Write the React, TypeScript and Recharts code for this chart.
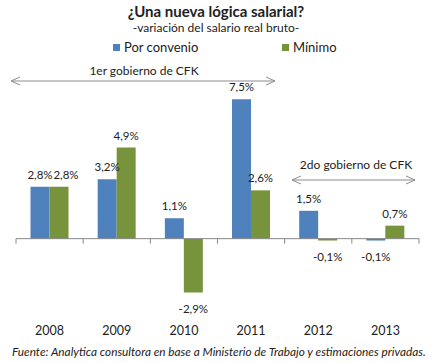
import { Bar, BarChart, LabelList, Legend, ReferenceLine, XAxis, YAxis } from "recharts";

const years = ["2008", "2009", "2010", "2011", "2012", "2013"];
const porConvenio = [2.8, 3.2, 1.1, 7.5, 1.5, -0.1];
const minimo = [2.8, 4.9, -2.9, 2.6, -0.1, 0.7];

const data = years.map((year, i) => ({ year, porConvenio: porConvenio[i], minimo: minimo[i] }));

const FONT = "Lato, 'Open Sans', sans-serif";
const BLUE = "#4F81BD";
const GREEN = "#77933C";
const GREY = "#868686";
const W = 433;
const H = 363;

const fmt = (v: number) => v.toFixed(1).replace(".", ",") + "%";

function ValueLabel(props: any) {
  const { x, y, width, height, value, index, other } = props;
  const top = Math.min(y, y + height);
  const bottom = Math.max(y, y + height);
  const neg = value < 0;
  // excel nudges a label sideways when it would sit on top of its twin
  const dx = other && other[index] === value ? 7 : 0;
  return (
    <text
      x={x + width / 2 + dx}
      y={neg ? bottom + 20 : top - 8}
      textAnchor="middle"
      fontSize={11.5}
      fontFamily={FONT}
      fill="#222"
    >
      {fmt(value)}
    </text>
  );
}

function YearTick(props: any) {
  const { x, y, payload } = props;
  return (
    <text x={x} y={y + 14} textAnchor="middle" fontSize={12.5} fontFamily={FONT} fill="#222">
      {payload.value}
    </text>
  );
}

// zero line plus the category tick marks hanging from it
function ZeroAxis(props: any) {
  const { x1, y1, x2 } = props;
  const step = (x2 - x1) / years.length;
  return (
    <g>
      <line x1={x1} y1={y1} x2={x2} y2={y1} stroke={GREY} strokeWidth={1} />
      {Array.from({ length: years.length + 1 }, (_, i) => (
        <line key={i} x1={x1 + i * step} y1={y1} x2={x1 + i * step} y2={y1 + 5} stroke={GREY} strokeWidth={1} />
      ))}
    </g>
  );
}

const legendSpots: Record<string, number> = { "Por convenio": 113, "Mínimo": 282 };

function LegendContent(props: any) {
  return (
    <div style={{ position: "relative", height: 16, fontFamily: FONT, fontSize: 13, color: "#222" }}>
      {(props.payload || []).map((p: any) => (
        <div
          key={p.value}
          style={{ position: "absolute", left: legendSpots[p.value] ?? 0, top: 0, display: "flex", alignItems: "center" }}
        >
          <span style={{ width: 7, height: 7, background: p.color, marginRight: 4, display: "inline-block" }} />
          <span>{p.value}</span>
        </div>
      ))}
    </div>
  );
}

function Arrow({ x1, x2, y }: { x1: number; x2: number; y: number }) {
  return (
    <g stroke="#8c8c8c" strokeWidth={1} fill="none">
      <line x1={x1} y1={y} x2={x2} y2={y} />
      <polyline points={`${x1 + 9},${y - 4} ${x1},${y} ${x1 + 9},${y + 4}`} />
      <polyline points={`${x2 - 9},${y - 4} ${x2},${y} ${x2 - 9},${y + 4}`} />
    </g>
  );
}

export default function App() {
  return (
    <div style={{ position: "absolute", left: 0, top: 0, width: W, height: H, background: "#fff" }}>
      <BarChart
        width={W}
        height={H}
        data={data}
        margin={{ top: 90, right: 14, bottom: 20, left: 16 }}
        barCategoryGap="21.6%"
        barGap={0}
      >
        <XAxis dataKey="year" axisLine={false} tickLine={false} height={30} interval={0} tick={<YearTick />} />
        <YAxis hide domain={[-4, 8]} allowDataOverflow />
        <Legend
          layout="horizontal"
          verticalAlign="middle"
          align="center"
          content={<LegendContent />}
          wrapperStyle={{ top: 39, left: 0, width: W }}
        />
        <Bar dataKey="porConvenio" name="Por convenio" fill={BLUE} isAnimationActive={false}>
          <LabelList dataKey="porConvenio" content={<ValueLabel />} />
        </Bar>
        <Bar dataKey="minimo" name="Mínimo" fill={GREEN} isAnimationActive={false}>
          <LabelList dataKey="minimo" content={<ValueLabel other={porConvenio} />} />
        </Bar>
        <ReferenceLine y={0} shape={<ZeroAxis />} />
      </BarChart>
      <svg width={W} height={H} style={{ position: "absolute", left: 0, top: 0, pointerEvents: "none" }}>
        <text x={216} y={17} textAnchor="middle" fontFamily={FONT} fontWeight="bold" fontSize={15} fill="#222">
          ¿Una nueva lógica salarial?
        </text>
        <text x={216} y={32} textAnchor="middle" fontFamily={FONT} fontSize={12} fill="#222">
          -variación del salario real bruto-
        </text>
        <text x={144} y={75} textAnchor="middle" fontFamily={FONT} fontSize={12} fill="#222">
          1er gobierno de CFK
        </text>
        <Arrow x1={11} x2={275} y={81} />
        <text x={356} y={169} textAnchor="middle" fontFamily={FONT} fontSize={12} fill="#222">
          2do gobierno de CFK
        </text>
        <Arrow x1={292} x2={415} y={180} />
        <text x={12} y={356} fontFamily={FONT} fontStyle="italic" fontSize={11.8} fill="#222">
          Fuente: Analytica consultora en base a Ministerio de Trabajo y estimaciones privadas.
        </text>
      </svg>
    </div>
  );
}
